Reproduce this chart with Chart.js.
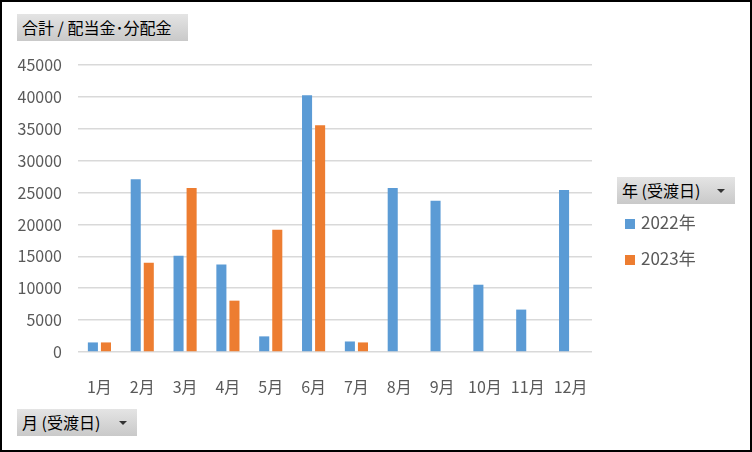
<!DOCTYPE html>
<html>
<head>
<meta charset="utf-8">
<script src="https://cdn.jsdelivr.net/npm/chart.js@4/dist/chart.umd.min.js"></script>
<style>
  html, body { margin: 0; padding: 0; background: #fff; }
  #wrap { position: relative; width: 752px; height: 452px; font-family: "Noto Sans CJK JP", "Noto Sans", sans-serif; }
  #frame { position: absolute; left: 0; top: 0; width: 752px; height: 452px; box-sizing: border-box; border: 2px solid #000; pointer-events: none; }
  canvas { position: absolute; left: 0; top: 0; }
  .btn { position: absolute; height: 27px; line-height: 27px; font-size: 16px; color: #000;
         background: linear-gradient(#e4e4e4, #c9c9c9); padding-left: 5px; box-sizing: border-box; white-space: nowrap; }
  .btn .arr { position: absolute; right: 10px; top: 12px; width: 0; height: 0;
              border-left: 4px solid transparent; border-right: 4px solid transparent; border-top: 4px solid #333; }
  #legend { position: absolute; left: 625px; top: 208px; font-size: 17px; color: #595959; }
  #legend div { height: 36px; line-height: 28px; white-space: nowrap; }
  #legend span.sw { display: inline-block; width: 10px; height: 10px; margin-right: 6px; vertical-align: 0px; }
</style>
</head>
<body>
<div id="wrap">
  <canvas id="chart" width="752" height="452"></canvas>
  <div class="btn" style="left:17px;top:14px;width:171px;">合計 / 配当金･分配金</div>
  <div class="btn" style="left:617px;top:177px;width:118px;">年 (受渡日)<span class="arr"></span></div>
  <div class="btn" style="left:17px;top:409px;width:120px;">月 (受渡日)<span class="arr"></span></div>
  <div id="legend"></div>
  <div id="frame"></div>
</div>
<script>
const months = ['1月', '2月', '3月', '4月', '5月', '6月', '7月', '8月', '9月', '10月', '11月', '12月'];
const seriesNames = ['2022年', '2023年'];
const values2022 = [1500, 27100, 15100, 13700, 2450, 40250, 1650, 25700, 23700, 10550, 6650, 25400];
const values2023 = [1500, 14000, 25700, 8050, 19150, 35550, 1500, null, null, null, null, null];
const colors = ['#5B9BD5', '#ED7D31'];

const chart = new Chart(document.getElementById('chart'), {
  type: 'bar',
  data: {
    labels: months,
    datasets: [
      { label: seriesNames[0], data: values2022, backgroundColor: colors[0] },
      { label: seriesNames[1], data: values2023, backgroundColor: colors[1] },
    ],
  },
  options: {
    responsive: false,
    animation: false,
    categoryPercentage: 0.61,
    barPercentage: 0.77,
    layout: { padding: { left: 0, top: 65, right: 160, bottom: 0 } },
    plugins: { legend: { display: false }, tooltip: { enabled: false } },
    scales: {
      x: {
        grid: { display: false },
        border: { display: false },
        ticks: { color: '#595959', font: { family: 'Noto Sans CJK JP', size: 16 }, padding: 17, maxRotation: 0 },
        afterFit: (s) => { s.height = 100; },
      },
      y: {
        min: 0,
        max: 45000,
        grid: { color: '#d9d9d9', lineWidth: 1.5, drawTicks: false },
        border: { display: false },
        ticks: {
          stepSize: 5000,
          color: '#595959',
          font: { family: 'Noto Sans CJK JP', size: 16 },
          padding: 16,
          callback: (v) => String(v),
        },
        afterFit: (s) => { s.width = 78; },
      },
    },
  },
});

// legend built from the chart datasets
const legend = document.getElementById('legend');
chart.data.datasets.forEach((ds) => {
  const row = document.createElement('div');
  row.innerHTML = `<span class="sw" style="background:${ds.backgroundColor}"></span>${ds.label}`;
  legend.appendChild(row);
});
</script>
</body>
</html>
